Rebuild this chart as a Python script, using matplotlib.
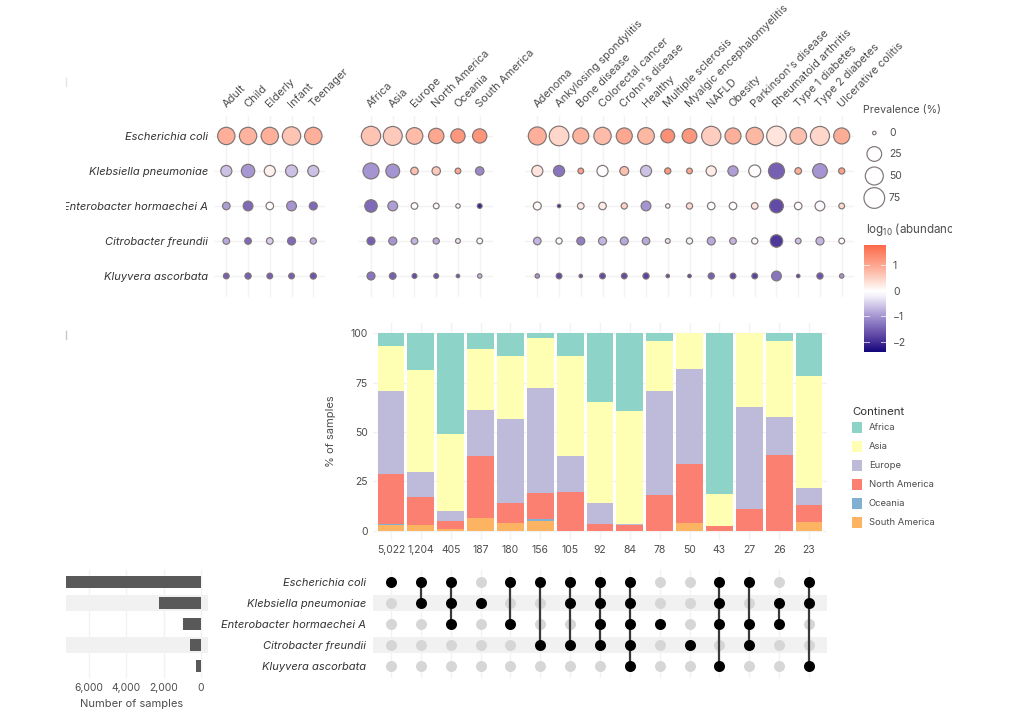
import matplotlib
matplotlib.use("Agg")
import matplotlib.pyplot as plt
import numpy as np
from matplotlib.colors import LinearSegmentedColormap, TwoSlopeNorm
from matplotlib.cm import ScalarMappable
from matplotlib.patches import Rectangle
from matplotlib.transforms import Bbox, ScaledTranslation

plt.rcParams["font.family"] = ["Inter", "DejaVu Sans"]
plt.rcParams["mathtext.default"] = "regular"

W, H = 1024, 720
TXT = "#4d4d4d"
GRID = "#f2f2f2"
EDGE = "#7f7475"

species = ["Escherichia coli", "Klebsiella pneumoniae", "Enterobacter hormaechei A",
           "Citrobacter freundii", "Kluyvera ascorbata"]

age = ["Adult", "Child", "Elderly", "Infant", "Teenager"]
continents = ["Africa", "Asia", "Europe", "North America", "Oceania", "South America"]
disease = ["Adenoma", "Ankylosing spondylitis", "Bone disease", "Colorectal cancer",
           "Crohn's disease", "Healthy", "Multiple sclerosis", "Myalgic encephalomyelitis",
           "NAFLD", "Obesity", "Parkinson's disease", "Rheumatoid arthritis",
           "Type 1 diabetes", "Type 2 diabetes", "Ulcerative colitis"]

# prevalence (%) per species (rows) and group (columns)
prev_age = [[45, 45, 45, 53, 45],
            [17, 22, 17, 19, 17],
            [9, 14, 9, 14, 10],
            [7, 7, 7, 10, 6],
            [5, 6, 5, 5, 6]]
prev_cont = [[62, 59, 40, 30, 24, 24],
             [35, 23, 9, 11, 5, 11],
             [20, 14, 7, 5, 2, 3],
             [10, 10, 7, 6, 3, 5],
             [10, 7, 3, 3, 0, 2]]
prev_dis = [[50, 65, 35, 45, 35, 40, 23, 25, 62, 35, 45, 65, 40, 60, 35],
            [17, 17, 5, 17, 12, 17, 6, 5, 15, 15, 19, 35, 7, 25, 6],
            [10, 0, 7, 9, 6, 14, 2, 6, 9, 9, 7, 23, 9, 14, 5],
            [9, 6, 10, 10, 10, 9, 3, 6, 10, 7, 6, 20, 5, 10, 5],
            [2, 5, 0, 5, 5, 6, 0, 0, 6, 5, 5, 14, 0, 6, 2]]

# log10 abundance, same layout
abund_age = [[0.9, 0.85, 0.9, 0.65, 0.9],
             [-0.6, -0.95, 0.15, -0.6, -0.6],
             [-0.9, -1.4, 0, -1.0, -1.4],
             [-0.8, -1.4, -0.5, -1.4, -0.8],
             [-1.5, -1.5, -1.5, -1.5, -1.6]]
abund_cont = [[0.65, 0.6, 0.75, 1.0, 1.2, 1.25],
              [-1.0, -1.0, 0.7, 0.6, 1.0, -1.1],
              [-1.4, -0.9, 0, -0.1, -0.05, -2.1],
              [-1.5, -1.0, -0.7, -0.8, -0.3, -0.1],
              [-1.3, -1.5, -1.7, -1.6, -1.6, -0.7]]
abund_dis = [[0.9, 0.45, 0.85, 0.75, 1.0, 0.8, 1.3, 1.2, 0.55, 0.9, 0.8, 0.3, 0.7, 0.45, 0.95],
             [0.3, -1.3, 1.1, 0, 0.7, -0.6, 1.2, 1.0, 0.2, -0.9, 0, -1.5, 0.9, -1.0, 1.1],
             [0.05, -2.0, 0.2, 0.2, 0.5, -1.0, -0.1, 0.4, 0, 0, 0.3, -1.7, 0, -0.1, 0.4],
             [-0.7, -0.1, -1.2, -0.7, -0.8, -0.8, -0.3, -0.2, -0.8, -0.7, -0.1, -1.9, -0.6, -0.7, 0.05],
             [-1.0, -1.7, -1.7, -1.7, -1.7, -1.8, -1.7, -1.8, -1.5, -1.7, -1.8, -1.3, -1.8, -1.6, -1.0]]

# stacked bars
set_sizes = ["5,022", "1,204", "405", "187", "180", "156", "105", "92", "84", "78", "50", "43", "27", "26", "23"]
south_america = [3, 3, 0.7, 6.3, 3.7, 5, 0, 0, 0, 0, 3.7, 0, 0, 0, 4.4]
oceania = [0.6, 0, 0, 0, 0, 0.7, 0, 0, 0, 0, 0, 0, 0, 0, 0]
north_america = [25, 14, 4, 31.7, 10.2, 13.5, 19.8, 3.2, 2.7, 17.9, 30.3, 2.4, 11, 38.5, 8.6]
europe = [42, 13, 5.3, 23, 42.7, 53.1, 18.2, 10.7, 0.8, 52.7, 48, 0, 51.8, 19.1, 8.8]
asia = [22.8, 51.4, 38.8, 31, 31.7, 25.2, 50.7, 51.3, 57.1, 25.4, 18, 16.2, 37.2, 38.4, 56.6]
africa = [6.6, 18.6, 51.2, 8, 11.7, 2.5, 11.3, 34.8, 39.4, 4, 0, 81.4, 0, 4, 21.6]

# which species make up each set (row index)
members = [[0], [0, 1], [0, 1, 2], [1], [0, 2], [0, 3], [0, 1, 3], [0, 1, 2, 3],
           [0, 1, 2, 3, 4], [2], [3], [0, 1, 2, 4], [0, 2, 3], [1, 2], [0, 1, 4]]

total_samples = [7232, 2232, 982, 590, 250]

cont_colors = {"Africa": "#8dd3c7", "Asia": "#ffffb3", "Europe": "#bebada",
               "North America": "#fb8072", "Oceania": "#80b1d3", "South America": "#fdb462"}

cmap = LinearSegmentedColormap.from_list("abund", [(0, "#14067c"), (0.09, "#4a3399"), (0.18, "#735eb2"),
                                                   (0.3, "#a899d4"), (0.46, "#f4f2fa"), (0.5, "#ffffff"),
                                                   (0.72, "#fdb8a4"), (1, "#fc6a48")])
norm = TwoSlopeNorm(vmin=-2.38, vcenter=0, vmax=1.8)


def px_axes(x0, y0, x1, y1):
    return fig.add_axes([x0 / W, 1 - y1 / H, (x1 - x0) / W, (y1 - y0) / H])


def dot_area(p):
    d = np.interp(p, [0, 25, 50, 75, 100], [3.5, 14.7, 18, 20.7, 23])
    return (d * 0.72) ** 2


fig = plt.figure(figsize=(W / 100, H / 100), dpi=100)

# dot panels
groups = [(age, prev_age, abund_age, 226.3, 313.3, 12),
          (continents, prev_cont, abund_cont, 371, 479.7, 13),
          (disease, prev_dis, abund_dis, 537.3, 841.7, 12.5)]
for i, (names, prev, abund, x_first, x_last, margin) in enumerate(groups):
    ax = px_axes(x_first - margin, 116, x_last + margin, 297)
    step = (x_last - x_first) / (len(names) - 1)
    ax.set_xlim(-margin / step, len(names) - 1 + margin / step)
    ax.set_ylim(4.6, -0.57)
    xx, yy = np.meshgrid(np.arange(len(names)), np.arange(5))
    ax.scatter(xx.ravel(), yy.ravel(), s=dot_area(np.array(prev).ravel()),
               c=np.array(abund).ravel(), cmap=cmap, norm=norm,
               edgecolors=EDGE, linewidths=0.85, clip_on=False, zorder=3)
    ax.set_xticks(np.arange(len(names)))
    ax.set_xticklabels(names, rotation=45, ha="left", va="bottom", rotation_mode="anchor",
                       fontsize=8, color=TXT)
    ax.xaxis.tick_top()
    ax.tick_params(length=0)
    ax.tick_params(axis="x", pad=5)
    nudge = ScaledTranslation(1.5 / 100, 0, fig.dpi_scale_trans)
    for lab in ax.get_xticklabels():
        lab.set_transform(lab.get_transform() + nudge)
    ax.set_yticks(np.arange(5))
    if i == 0:
        ax.set_yticklabels(species, fontsize=8, style="italic", color="#333333")
        ax.tick_params(axis="y", pad=4.5)
        for lab in ax.get_yticklabels():
            lab.set_clip_on(True)
            lab.set_clip_box(Bbox([[66, 0], [W, H]]))
    else:
        ax.set_yticklabels([])
    ax.grid(True, color=GRID, lw=1)
    ax.set_axisbelow(True)
    for s in ax.spines.values():
        s.set_visible(False)

# stacked bars
x_first, x_last = 391, 809
step = (x_last - x_first) / 14
bar_l, bar_r = 373, 827
xlim = ((bar_l - x_first) / step, (bar_r - x_first) / step)
ax = px_axes(bar_l, 323, bar_r, 540)
x = np.arange(len(set_sizes))
bottom = np.zeros(len(set_sizes))
stack = [("South America", south_america), ("Oceania", oceania), ("North America", north_america),
         ("Europe", europe), ("Asia", asia), ("Africa", africa)]
for name, vals in stack:
    ax.bar(x, vals, 0.9, bottom=bottom, color=cont_colors[name], zorder=2)
    bottom += np.array(vals)
ax.set_xlim(xlim)
ax.set_ylim(-(540 - 530.7) / 1.973, (530.7 - 323) / 1.973)
ax.set_xticks(x)
ax.set_xticklabels(set_sizes, fontsize=7.5, color=TXT)
ax.set_yticks([0, 25, 50, 75, 100])
ax.tick_params(length=0, labelsize=7.5, labelcolor=TXT)
ax.tick_params(axis="x", pad=3.8)
ax.tick_params(axis="y", pad=4)
ax.set_ylabel("% of samples", fontsize=8, color=TXT, labelpad=10)
ax.grid(True, color=GRID, lw=1)
ax.set_axisbelow(True)
for s in ax.spines.values():
    s.set_visible(False)

# membership matrix
ax = px_axes(bar_l, 570, bar_r, 678)
row_ylim = (4 + 12.3 / 20.9, -12 / 20.9)
for r in (1, 3):
    ax.axhspan(r - 0.385, r + 0.385, color="#f1f1f1", lw=0, zorder=1)
xx, yy = np.meshgrid(x, np.arange(5))
ax.scatter(xx.ravel(), yy.ravel(), s=(11 * 0.72) ** 2, color="#d6d6d6", lw=0, zorder=2)
for col, rows in enumerate(members):
    ax.scatter([col] * len(rows), rows, s=(11 * 0.72) ** 2, color="black", lw=0, zorder=4)
    if len(rows) > 1:
        ax.plot([col, col], [min(rows), max(rows)], color="#3a3a3a", lw=1.6, zorder=3)
ax.set_xlim(xlim)
ax.set_ylim(row_ylim)
ax.set_xticks(x)
ax.set_xticklabels([])
ax.set_yticks(np.arange(5))
ax.set_yticklabels(species, fontsize=8, style="italic", color="#333333")
ax.tick_params(length=0)
ax.tick_params(axis="y", pad=5.2)
ax.grid(True, axis="x", color=GRID, lw=1, zorder=0)
ax.set_axisbelow(True)
for s in ax.spines.values():
    s.set_visible(False)

# set size bars
ax = px_axes(66, 570, 208, 678)
for r in (1, 3):
    ax.axhspan(r - 0.385, r + 0.385, color="#f1f1f1", lw=0, zorder=1)
ax.barh(np.arange(5), total_samples, 0.58, color="#595959", zorder=2)
ax.set_xlim(135 / 0.018665, -7 / 0.018665)
ax.set_ylim(row_ylim)
ax.set_xticks([6000, 4000, 2000, 0])
ax.set_xticklabels(["6,000", "4,000", "2,000", "0"], fontsize=7.5, color=TXT)
ax.set_yticks([])
ax.tick_params(length=0, pad=3.6)
ax.set_xlabel("Number of samples", fontsize=8, color=TXT, labelpad=4, x=0.465)
ax.grid(True, axis="x", color=GRID, lw=1, zorder=0)
ax.set_axisbelow(True)
for s in ax.spines.values():
    s.set_visible(False)

# colourbar
cax = px_axes(864, 245, 886, 351.7)
cb = fig.colorbar(ScalarMappable(norm=norm, cmap=cmap), cax=cax)
cb.ax.set_yscale("linear")
cb.set_ticks([-2, -1, 0, 1])
cb.set_ticklabels(["\u22122", "\u22121", "0", "1"])
cb.outline.set_visible(False)
cax.tick_params(length=0, labelsize=7.5, labelcolor=TXT, pad=5)
for v in [-2, -1, 0, 1]:
    cax.plot([0, 0.22], [v, v], color="white", lw=0.7, alpha=0.7, transform=cax.get_yaxis_transform())
    cax.plot([0.78, 1], [v, v], color="white", lw=0.7, alpha=0.7, transform=cax.get_yaxis_transform())

# overlay for legends, in pixel coordinates
ov = fig.add_axes([0, 0, 1, 1], zorder=10)
ov.set_xlim(0, W)
ov.set_ylim(H, 0)
ov.axis("off")

# stray crop marks at the left edge of the source image
ov.plot([66, 66], [78, 86], color="#e4e4e4", lw=1)
ov.plot([66, 66], [331, 339], color="#c8c8c8", lw=1)

ov.text(863, 110, "Prevalence (%)", fontsize=7.7, color=TXT, va="center")
legend_prev = [0, 25, 50, 75]
legend_y = [133, 154, 176, 198]
ov.scatter([874.3] * 4, legend_y, s=dot_area(np.array(legend_prev)), facecolors="white",
           edgecolors=EDGE, linewidths=0.85)
for p, y in zip(legend_prev, legend_y):
    ov.text(889, y, str(p), fontsize=7.5, color=TXT, va="center")

t = ov.text(866, 230, r"log$_{10}$ (abundance)", fontsize=8.3, color=TXT, va="center", clip_on=True)
t.set_clip_box(Bbox([[0, 0], [952, H]]))

ov.text(852, 412, "Continent", fontsize=8.2, color="#333333", va="center")
legend_cy = [427.7, 446.7, 465.7, 484.5, 503.5, 522.3]
for name, y in zip(continents, legend_cy):
    ov.add_patch(Rectangle((851.7, y - 5.3), 10.6, 10.6, color=cont_colors[name], lw=0))
    ov.text(868.7, y, name, fontsize=6.8, color=TXT, va="center")

fig.savefig("out.png", dpi=100)
